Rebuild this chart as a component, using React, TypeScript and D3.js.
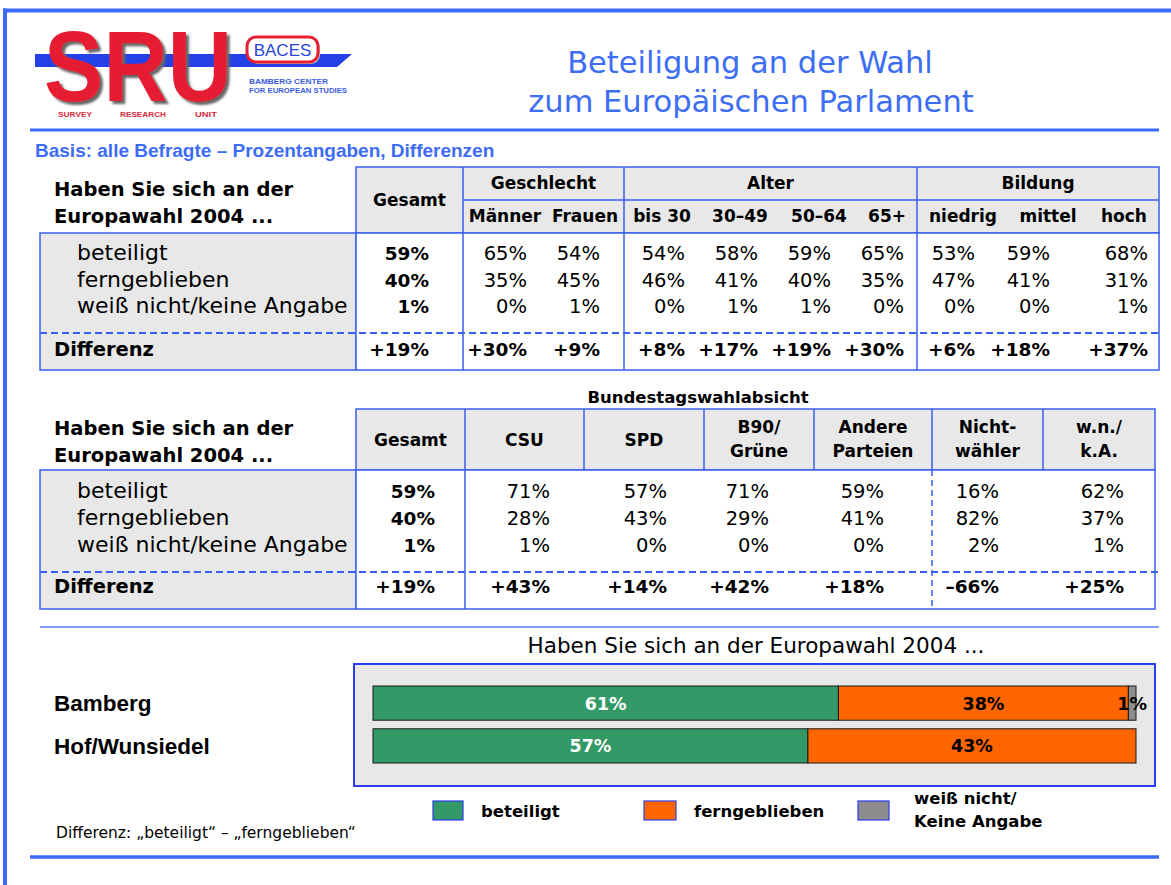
import React from 'react';
import * as d3 from 'd3';

// Zeilen der Tabellen
const rowLabels = ['beteiligt', 'ferngeblieben', 'weiß nicht/keine Angabe'];

// Tabelle 1: Gesamt, Geschlecht, Alter, Bildung
const t1Groups = ['Geschlecht', 'Alter', 'Bildung'];
const t1Columns = ['Gesamt', 'Männer', 'Frauen', 'bis 30', '30–49', '50–64', '65+', 'niedrig', 'mittel', 'hoch'];
const t1Beteiligt = [59, 65, 54, 54, 58, 59, 65, 53, 59, 68];
const t1Ferngeblieben = [40, 35, 45, 46, 41, 40, 35, 47, 41, 31];
const t1WeissNicht = [1, 0, 1, 0, 1, 1, 0, 0, 0, 1];
const t1Differenz = [19, 30, 9, 8, 17, 19, 30, 6, 18, 37];

// Tabelle 2: Bundestagswahlabsicht
const t2Columns = ['Gesamt', 'CSU', 'SPD', 'B90/|Grüne', 'Andere|Parteien', 'Nicht-|wähler', 'w.n./|k.A.'];
const t2Beteiligt = [59, 71, 57, 71, 59, 16, 62];
const t2Ferngeblieben = [40, 28, 43, 29, 41, 82, 37];
const t2WeissNicht = [1, 1, 0, 0, 0, 2, 1];
const t2Differenz = [19, 43, 14, 42, 18, -66, 25];

// Balkendiagramm
const regions = ['Bamberg', 'Hof/Wunsiedel'];
const barKeys = ['beteiligt', 'ferngeblieben', 'weiß nicht/Keine Angabe'];
const bambergValues = [61, 38, 1];
const hofValues = [57, 43, 0];

// layout + styles
const BLUE = '#3a5ff0';
const FRAME = '#3b6bfa';
const GRAY = '#e8e8e8';
const TF = 'DejaVu Sans, Verdana, sans-serif';
const AF = 'Liberation Sans, Arial, sans-serif';
const barColors = ['#339966', '#ff6600', '#8c8c8c'];

const t1Edges = [356, 463, 624, 917, 1159];
const t1ValueX = [429, 527, 600, 685, 758, 831, 904, 975, 1050, 1148];
const t1HeadX = [410, 505, 585, 662, 740, 819, 887, 963, 1048, 1124];

const t2Edges = [356, 465, 584, 704, 814, 932, 1043, 1155];
const t2ValueX = [435, 550, 667, 769, 884, 999, 1124];

const pct = (v: number) => `${v}%`;
const diff = (v: number) => (v > 0 ? '+' : v < 0 ? '–' : '') + Math.abs(v) + '%';

function Heading({ y }: { y: number }) {
  return (
    <g fontFamily={TF} fontWeight="bold" fontSize={19.5} fill="#000">
      <text x={54} y={y}>Haben Sie sich an der</text>
      <text x={54} y={y + 27}>Europawahl 2004 ...</text>
    </g>
  );
}

function RowLabels({ rowY, diffY }: { rowY: d3.ScalePoint<string>; diffY: number }) {
  return (
    <g fontFamily={TF} fill="#000">
      {rowLabels.map(r => (
        <text key={r} x={77} y={rowY(r)} fontSize={22}>{r}</text>
      ))}
      <text x={54} y={diffY} fontSize={19.5} fontWeight="bold">Differenz</text>
    </g>
  );
}

function Values({ cols, valueX, rows, diffs, rowY, diffY }: {
  cols: string[]; valueX: d3.ScaleOrdinal<string, number>; rows: number[][]; diffs: number[];
  rowY: d3.ScalePoint<string>; diffY: number;
}) {
  return (
    <g fontFamily={TF} textAnchor="end" fill="#000">
      {rows.map((vals, ri) =>
        vals.map((v, ci) => (
          <text key={ri + '-' + ci} x={valueX(cols[ci])} y={rowY(rowLabels[ri])}
            fontSize={ci === 0 ? 18.5 : 19.5} fontWeight={ci === 0 ? 'bold' : 'normal'}>{pct(v)}</text>
        ))
      )}
      {diffs.map((v, ci) => (
        <text key={'d' + ci} x={valueX(cols[ci])} y={diffY} fontSize={18.5} fontWeight="bold">{diff(v)}</text>
      ))}
    </g>
  );
}

function Table1() {
  const top = 167, mid = 200, hb = 233, dash = 333, bottom = 370, left = 40;
  const right = t1Edges[t1Edges.length - 1];
  const valueX = d3.scaleOrdinal<string, number>().domain(t1Columns).range(t1ValueX);
  const headX = d3.scaleOrdinal<string, number>().domain(t1Columns).range(t1HeadX);
  const rowY = d3.scalePoint<string>().domain(rowLabels).range([hb + 27, hb + 80]);
  return (
    <g>
      <rect x={t1Edges[0]} y={top} width={right - t1Edges[0]} height={hb - top} fill={GRAY} stroke={BLUE} strokeWidth={1.5} />
      <rect x={left} y={hb} width={t1Edges[0] - left} height={bottom - hb} fill={GRAY} stroke={BLUE} strokeWidth={1.5} />
      <rect x={t1Edges[0]} y={hb} width={right - t1Edges[0]} height={bottom - hb} fill="#fff" stroke={BLUE} strokeWidth={1.5} />
      <line x1={t1Edges[1]} x2={right} y1={mid} y2={mid} stroke={BLUE} strokeWidth={1.5} />
      {t1Edges.slice(1, -1).map(x => (
        <line key={x} x1={x} x2={x} y1={top} y2={bottom} stroke={BLUE} strokeWidth={1.5} />
      ))}
      <line x1={left} x2={right} y1={dash} y2={dash} stroke={BLUE} strokeWidth={2} strokeDasharray="7,4" />
      <Heading y={196} />
      <g fontFamily={TF} fontWeight="bold" fontSize={17} textAnchor="middle" fill="#000">
        <text x={(t1Edges[0] + t1Edges[1]) / 2} y={206}>{t1Columns[0]}</text>
        {t1Groups.map((g, i) => (
          <text key={g} x={(t1Edges[i + 1] + t1Edges[i + 2]) / 2} y={189}>{g}</text>
        ))}
        {t1Columns.slice(1).map(c => (
          <text key={c} x={headX(c)} y={222}>{c}</text>
        ))}
      </g>
      <RowLabels rowY={rowY} diffY={356} />
      <Values cols={t1Columns} valueX={valueX} rows={[t1Beteiligt, t1Ferngeblieben, t1WeissNicht]}
        diffs={t1Differenz} rowY={rowY} diffY={356} />
    </g>
  );
}

function Table2() {
  const top = 409, hb = 470, dash = 572, bottom = 609, left = 40;
  const right = t2Edges[t2Edges.length - 1];
  const valueX = d3.scaleOrdinal<string, number>().domain(t2Columns).range(t2ValueX);
  const rowY = d3.scalePoint<string>().domain(rowLabels).range([hb + 28, hb + 82]);
  return (
    <g>
      <text x={698} y={403} fontFamily={TF} fontWeight="bold" fontSize={16.5} textAnchor="middle">Bundestagswahlabsicht</text>
      <rect x={t2Edges[0]} y={top} width={right - t2Edges[0]} height={hb - top} fill={GRAY} stroke={BLUE} strokeWidth={1.5} />
      <rect x={left} y={hb} width={t2Edges[0] - left} height={bottom - hb} fill={GRAY} stroke={BLUE} strokeWidth={1.5} />
      <rect x={t2Edges[0]} y={hb} width={right - t2Edges[0]} height={bottom - hb} fill="#fff" stroke={BLUE} strokeWidth={1.5} />
      {t2Edges.slice(1, -1).map(x => (
        <line key={x} x1={x} x2={x} y1={top} y2={hb} stroke={BLUE} strokeWidth={1.5} />
      ))}
      <line x1={t2Edges[1]} x2={t2Edges[1]} y1={hb} y2={bottom} stroke={BLUE} strokeWidth={1.5} />
      <line x1={t2Edges[5]} x2={t2Edges[5]} y1={hb} y2={bottom} stroke={BLUE} strokeWidth={1.5} strokeDasharray="6,4" />
      <line x1={left} x2={right + 6} y1={dash} y2={dash} stroke={BLUE} strokeWidth={2} strokeDasharray="7,4" />
      <Heading y={435} />
      <g fontFamily={TF} fontWeight="bold" fontSize={17} textAnchor="middle" fill="#000">
        {t2Columns.map((c, i) => {
          const cx = (t2Edges[i] + t2Edges[i + 1]) / 2;
          const lines = c.split('|');
          return lines.length === 1
            ? <text key={c} x={cx} y={446}>{c}</text>
            : lines.map((l, li) => <text key={c + li} x={cx} y={433 + li * 24}>{l}</text>);
        })}
      </g>
      <RowLabels rowY={rowY} diffY={593} />
      <Values cols={t2Columns} valueX={valueX} rows={[t2Beteiligt, t2Ferngeblieben, t2WeissNicht]}
        diffs={t2Differenz} rowY={rowY} diffY={593} />
    </g>
  );
}

function Bars() {
  const x = d3.scaleLinear().domain([0, 100]).range([373, 1136]);
  const y = d3.scaleBand<string>().domain(regions).range([686, 763]).paddingInner(0.2);
  const table = regions.map((r, i) => {
    const vals = i === 0 ? bambergValues : hofValues;
    const o: any = { region: r };
    barKeys.forEach((k, j) => (o[k] = vals[j]));
    return o;
  });
  const series = d3.stack<any>().keys(barKeys)(table);
  return (
    <g>
      <line x1={40} x2={1159} y1={627} y2={627} stroke="#7f9cf7" strokeWidth={2} />
      <text x={756} y={653} fontFamily={TF} fontSize={21.5} textAnchor="middle">Haben Sie sich an der Europawahl 2004 ...</text>
      <rect x={354} y={664} width={801} height={122} fill={GRAY} stroke="#2a3df0" strokeWidth={2} />
      {series.map((s, si) => (
        <g key={s.key}>
          {s.map(d => d[1] - d[0] > 0 && (
            <rect key={d.data.region} x={x(d[0])} y={y(d.data.region)} width={x(d[1]) - x(d[0])}
              height={y.bandwidth()} fill={barColors[si]} stroke="#1a1a1a" strokeWidth={1} />
          ))}
          {s.map(d => d[1] - d[0] > 0 && (
            <text key={'l' + d.data.region} x={(x(d[0]) + x(d[1])) / 2} y={(y(d.data.region) as number) + y.bandwidth() / 2 + 6.5}
              textAnchor="middle" fontFamily={TF} fontWeight="bold" fontSize={17.5}
              fill={si === 0 ? '#fff' : '#000'}>{pct(d[1] - d[0])}</text>
          ))}
        </g>
      ))}
      <g fontFamily={AF} fontWeight="bold" fontSize={22.5}>
        {regions.map(r => (
          <text key={r} x={54} y={(y(r) as number) + y.bandwidth() / 2 + 8}>{r}</text>
        ))}
      </g>
      <g fontFamily={TF} fontWeight="bold" fontSize={16.5}>
        <rect x={433} y={801} width={30} height={19} fill={barColors[0]} stroke="#2a3df0" strokeWidth={1.2} />
        <text x={481} y={817}>{barKeys[0]}</text>
        <rect x={644} y={801} width={32} height={19} fill={barColors[1]} stroke="#2a3df0" strokeWidth={1.2} />
        <text x={694} y={817}>{barKeys[1]}</text>
        <rect x={858} y={801} width={31} height={19} fill={barColors[2]} stroke="#2a3df0" strokeWidth={1.2} />
        <text x={914} y={804}>weiß nicht/</text>
        <text x={914} y={827}>Keine Angabe</text>
      </g>
      <text x={56} y={838} fontFamily={TF} fontSize={15.5}>Differenz: „beteiligt“ – „ferngeblieben“</text>
    </g>
  );
}

function Logo() {
  return (
    <g>
      <defs>
        <filter id="sruShadow" x="-10%" y="-10%" width="130%" height="130%">
          <feDropShadow dx={3} dy={3} stdDeviation={0.8} floodColor="#666" floodOpacity={1} />
        </filter>
      </defs>
      <polygon points="35,54 352,54 337,67 35,67" fill="#2341e6" />
      <text x={44} y={101} fontFamily={AF} fontWeight="bold" fontSize={100} textLength={188}
        lengthAdjust="spacingAndGlyphs" fill="#e61f33" filter="url(#sruShadow)">SRU</text>
      <rect x={249} y={39} width={71} height={25} rx={9} fill="#bbb" />
      <rect x={247} y={37} width={71} height={25} rx={9} fill="#fff" stroke="#e61f33" strokeWidth={3} />
      <text x={282.5} y={56} fontFamily={AF} fontSize={17} textAnchor="middle" fill="#2a44d8">BACES</text>
      <g fontFamily={AF} fontWeight="bold" fontSize={7.5} fill="#3c5ce0">
        <text x={249} y={84} textLength={79} lengthAdjust="spacingAndGlyphs">BAMBERG CENTER</text>
        <text x={249} y={93} textLength={98} lengthAdjust="spacingAndGlyphs">FOR EUROPEAN STUDIES</text>
      </g>
      <g fontFamily={AF} fontWeight="bold" fontSize={7.5} fill="#d42a3a">
        <text x={58} y={117} textLength={34} lengthAdjust="spacingAndGlyphs">SURVEY</text>
        <text x={120} y={117} textLength={46} lengthAdjust="spacingAndGlyphs">RESEARCH</text>
        <text x={195} y={117} textLength={22} lengthAdjust="spacingAndGlyphs">UNIT</text>
      </g>
    </g>
  );
}

export default function App() {
  return (
    <svg width={1171} height={885} style={{ position: 'absolute', left: 0, top: 0, background: '#fff' }}>
      <rect x={0} y={0} width={1171} height={885} fill="#fff" />
      <line x1={3} x2={1171} y1={10.5} y2={10.5} stroke={FRAME} strokeWidth={4} />
      <line x1={5} x2={5} y1={8.5} y2={885} stroke={FRAME} strokeWidth={4} />
      <Logo />
      <g fontFamily={TF} fontSize={30.5} fill="#3d6df5" textAnchor="middle">
        <text x={750} y={73}>Beteiligung an der Wahl</text>
        <text x={751} y={112}>zum Europäischen Parlament</text>
      </g>
      <line x1={30} x2={1159} y1={130} y2={130} stroke={FRAME} strokeWidth={3} />
      <text x={35} y={157} fontFamily={AF} fontWeight="bold" fontSize={19} fill="#3d6df5">
        Basis: alle Befragte – Prozentangaben, Differenzen
      </text>
      <Table1 />
      <Table2 />
      <Bars />
      <line x1={30} x2={1159} y1={857} y2={857} stroke={FRAME} strokeWidth={3.5} />
    </svg>
  );
}
